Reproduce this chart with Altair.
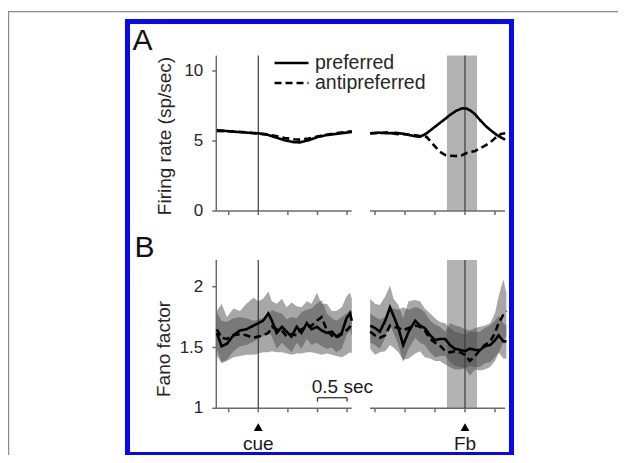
import altair as alt
import pandas as pd

FONT = "Liberation Sans"
CONDS = ["preferred", "antipreferred"]

# ---------------- Panel A : firing rate (sp/sec) ----------------
# left half, time (s) relative to cue
A_left_t = [-0.70, -0.55, -0.40, -0.20, 0.00, 0.15, 0.30, 0.45, 0.60, 0.70, 0.85, 1.00, 1.15, 1.30, 1.45, 1.58]
A_left_pref = [5.78, 5.72, 5.66, 5.60, 5.55, 5.45, 5.25, 5.05, 4.92, 4.90, 5.05, 5.28, 5.42, 5.50, 5.58, 5.65]
A_left_anti = [5.72, 5.70, 5.68, 5.62, 5.52, 5.48, 5.35, 5.22, 5.12, 5.10, 5.18, 5.32, 5.45, 5.55, 5.62, 5.70]
# right half, time (s) relative to feedback
A_right_t = [-1.58, -1.45, -1.30, -1.15, -1.00, -0.85, -0.75, -0.64, -0.55, -0.42, -0.33, -0.25,
             -0.15, -0.05, 0.03, 0.10, 0.17, 0.25, 0.35, 0.42, 0.53, 0.60, 0.67]
A_right_pref = [5.55, 5.60, 5.55, 5.58, 5.50, 5.35, 5.30, 5.55, 5.85, 6.28, 6.58, 6.86,
                7.15, 7.33, 7.32, 7.15, 6.90, 6.50, 6.05, 5.80, 5.43, 5.25, 5.10]
A_right_anti = [5.55, 5.55, 5.62, 5.50, 5.48, 5.42, 5.35, 5.30, 4.85, 4.24, 4.00, 3.95,
                3.93, 3.98, 4.15, 4.22, 4.28, 4.48, 4.70, 4.90, 5.30, 5.50, 5.55]

# ---------------- Panel B : Fano factor ----------------
B_left_t = [-0.70, -0.62, -0.53, -0.42, -0.31, -0.20, -0.08, 0.00, 0.08, 0.17, 0.23, 0.31, 0.40, 0.48,
            0.56, 0.65, 0.73, 0.82, 0.90, 0.99, 1.07, 1.16, 1.24, 1.32, 1.41, 1.49, 1.55, 1.58]
B_left_pref = [1.62, 1.51, 1.53, 1.60, 1.64, 1.65, 1.68, 1.70, 1.72, 1.78, 1.72, 1.62, 1.67, 1.63,
               1.59, 1.67, 1.62, 1.70, 1.65, 1.67, 1.64, 1.62, 1.63, 1.59, 1.62, 1.74, 1.78, 1.72]
B_left_anti = [1.65, 1.58, 1.57, 1.60, 1.61, 1.60, 1.58, 1.59, 1.60, 1.62, 1.67, 1.65, 1.64, 1.59,
               1.61, 1.60, 1.65, 1.67, 1.68, 1.72, 1.75, 1.64, 1.60, 1.58, 1.61, 1.64, 1.67, 1.66]
B_left_pref_hi = [1.80, 1.86, 1.75, 1.82, 1.80, 1.86, 1.91, 1.88, 1.90, 1.96, 1.88, 1.86, 1.90, 1.83,
                  1.87, 1.84, 1.83, 1.88, 1.86, 1.95, 1.86, 1.86, 1.80, 1.80, 1.83, 1.92, 1.95, 1.90]
B_left_pref_lo = [1.49, 1.38, 1.40, 1.47, 1.51, 1.52, 1.55, 1.57, 1.59, 1.64, 1.59, 1.49, 1.54, 1.50,
                  1.46, 1.54, 1.49, 1.57, 1.52, 1.54, 1.51, 1.49, 1.50, 1.46, 1.49, 1.60, 1.64, 1.59]
B_left_anti_hi = [1.79, 1.72, 1.71, 1.74, 1.75, 1.74, 1.72, 1.73, 1.74, 1.76, 1.81, 1.79, 1.78, 1.73,
                  1.75, 1.74, 1.79, 1.81, 1.82, 1.86, 1.89, 1.78, 1.74, 1.72, 1.75, 1.78, 1.81, 1.80]
B_left_anti_lo = [1.43, 1.37, 1.39, 1.42, 1.43, 1.44, 1.44, 1.45, 1.46, 1.46, 1.47, 1.46, 1.46, 1.45,
                  1.44, 1.45, 1.45, 1.46, 1.46, 1.45, 1.44, 1.45, 1.44, 1.43, 1.42, 1.44, 1.46, 1.45]

B_right_t = [-1.58, -1.50, -1.42, -1.33, -1.25, -1.19, -1.11, -1.03, -0.94, -0.83, -0.75, -0.67, -0.58,
             -0.50, -0.42, -0.33, -0.25, -0.17, -0.08, 0.00, 0.08, 0.17, 0.25, 0.33, 0.42, 0.50, 0.56,
             0.64, 0.69]
B_right_pref = [1.68, 1.66, 1.63, 1.72, 1.83, 1.76, 1.66, 1.52, 1.63, 1.72, 1.68, 1.66, 1.60,
                1.56, 1.57, 1.57, 1.52, 1.49, 1.48, 1.47, 1.49, 1.48, 1.48, 1.51, 1.52, 1.56, 1.60,
                1.55, 1.55]
B_right_anti = [1.63, 1.60, 1.58, 1.60, 1.68, 1.67, 1.66, 1.64, 1.66, 1.68, 1.67, 1.64, 1.57,
                1.54, 1.52, 1.47, 1.46, 1.47, 1.46, 1.44, 1.39, 1.43, 1.48, 1.52, 1.55, 1.62, 1.70,
                1.77, 1.80]
B_right_pref_hi = [1.90, 1.86, 1.85, 1.92, 2.01, 1.90, 1.85, 1.74, 1.88, 1.89, 1.88, 1.82, 1.78,
                   1.74, 1.71, 1.70, 1.66, 1.63, 1.62, 1.61, 1.63, 1.63, 1.63, 1.66, 1.68, 1.72, 1.76,
                   1.70, 1.68]
B_right_pref_lo = [1.54, 1.52, 1.49, 1.58, 1.69, 1.62, 1.52, 1.38, 1.49, 1.58, 1.54, 1.52, 1.46,
                   1.42, 1.43, 1.43, 1.38, 1.35, 1.34, 1.33, 1.35, 1.34, 1.34, 1.37, 1.38, 1.42, 1.46,
                   1.41, 1.41]
B_right_anti_hi = [1.78, 1.75, 1.73, 1.75, 1.83, 1.82, 1.81, 1.83, 1.81, 1.83, 1.82, 1.79, 1.72,
                   1.69, 1.67, 1.63, 1.70, 1.68, 1.67, 1.65, 1.64, 1.66, 1.67, 1.68, 1.70, 1.78, 1.92,
                   2.06, 1.95]
B_right_anti_lo = [1.49, 1.44, 1.46, 1.47, 1.52, 1.50, 1.46, 1.40, 1.41, 1.45, 1.47, 1.42, 1.41,
                   1.39, 1.39, 1.36, 1.34, 1.32, 1.32, 1.33, 1.27, 1.32, 1.31, 1.32, 1.34, 1.39, 1.45,
                   1.55, 1.60]

# event markers / windows / axes
EVENT_T = [0.0]                  # cue (left) and feedback (right) times
FB_WINDOW = [-0.30, 0.20]        # grey analysis window around feedback
LEFT_TICKS = [-0.5, 0.0, 0.5, 1.0, 1.5]
RIGHT_TICKS = [-1.5, -1.0, -0.5, 0.0, 0.5]
A_YTICKS = [0, 5, 10]
A_YLABELS = ["0", "5", "10"]
B_YTICKS = [1, 1.5, 2]
B_YLABELS = ["1", "1.5", "2"]
A_YRANGE = [0, 11.1]
B_YRANGE = [1, 2.22]
A_TITLE = "Firing rate (sp/sec)"
B_TITLE = "Fano factor"
SCALEBAR = [1.0, 1.5]            # 0.5 sec scale bar (s)
EVENT_LABELS = ["cue", "Fb"]

# ---------------- layout (pixels, plot coordinates) ----------------
W, H = 610, 444
LEFT_XR = [208.3, 343.7]
LEFT_XD = [-0.709, 1.578]
RIGHT_XR = [362, 497]
RIGHT_XD = [-1.583, 0.667]
A_YR = [200, 44.6]
B_YR = [397.3, 248.95]

AXIS_GREY = "#6b6b6b"
TEXT_COL = "#262626"
LINE_W = 2.6


def long_df(t, pref, anti):
    rows = []
    for cond, vals in (("preferred", pref), ("antipreferred", anti)):
        for ti, v in zip(t, vals):
            rows.append({"t": ti, "v": v, "cond": cond})
    return pd.DataFrame(rows)


def band_df(t, plo, phi, alo, ahi):
    rows = []
    for cond, lo, hi in (("preferred", plo, phi), ("antipreferred", alo, ahi)):
        for ti, a, b in zip(t, lo, hi):
            rows.append({"t": ti, "lo": a, "hi": b, "cond": cond})
    return pd.DataFrame(rows)


def X(field, side):
    sc = (alt.Scale(domain=LEFT_XD, range=LEFT_XR, nice=False, zero=False) if side == "L"
          else alt.Scale(domain=RIGHT_XD, range=RIGHT_XR, nice=False, zero=False))
    return alt.X(field, scale=sc, axis=None)


def Y(field, panel):
    sc = (alt.Scale(domain=A_YRANGE, range=A_YR, nice=False, zero=False) if panel == "A"
          else alt.Scale(domain=B_YRANGE, range=B_YR, nice=False, zero=False))
    return alt.Y(field, scale=sc, axis=None)


def xd(side):
    return LEFT_XD if side == "L" else RIGHT_XD


def yd(panel):
    return A_YRANGE if panel == "A" else B_YRANGE


def x_axis(side, panel):
    d0, d1 = xd(side)
    y0 = yd(panel)[0]
    line = alt.Chart(pd.DataFrame({"a": [d0], "b": [d1], "y": [y0]})).mark_rule(
        color=AXIS_GREY, strokeWidth=1.5).encode(x=X("a:Q", side), x2="b:Q", y=Y("y:Q", panel))
    ticks = LEFT_TICKS if side == "L" else RIGHT_TICKS
    tk = alt.Chart(pd.DataFrame({"t": ticks, "y": [y0] * len(ticks)})).mark_tick(
        color=AXIS_GREY, orient="vertical", size=4, thickness=1.5, yOffset=2, opacity=1).encode(
        x=X("t:Q", side), y=Y("y:Q", panel))
    return line + tk


def y_axis(panel):
    d0 = LEFT_XD[0]
    r0, r1 = yd(panel)
    vals = A_YTICKS if panel == "A" else B_YTICKS
    labs = A_YLABELS if panel == "A" else B_YLABELS
    line = alt.Chart(pd.DataFrame({"x": [d0], "a": [r0], "b": [r1]})).mark_rule(
        color=AXIS_GREY, strokeWidth=1.5).encode(x=X("x:Q", "L"), y=Y("a:Q", panel), y2="b:Q")
    df = pd.DataFrame({"x": [d0] * len(vals), "v": vals, "lab": labs})
    tk = alt.Chart(df).mark_tick(color=AXIS_GREY, orient="horizontal", size=4, thickness=1.5,
                                 xOffset=-2, opacity=1).encode(x=X("x:Q", "L"), y=Y("v:Q", panel))
    tx = alt.Chart(df).mark_text(font=FONT, fontSize=17, color=TEXT_COL, align="right",
                                 baseline="middle", xOffset=-13).encode(
        x=X("x:Q", "L"), y=Y("v:Q", panel), text="lab:N")
    return line + tk + tx


dash_scale = alt.Scale(domain=CONDS, range=[[1, 0], [7, 4]])
legend = alt.Legend(orient="none", legendX=265, legendY=42.5, title=None, symbolType="stroke",
                    symbolSize=1156, symbolStrokeWidth=2.5, symbolStrokeColor="black",
                    labelFontSize=19.5, labelFont=FONT, labelColor=TEXT_COL, labelOffset=5,
                    clipHeight=19, rowPadding=0, padding=0)


def lines(df, side, panel, with_legend=False):
    return alt.Chart(df).mark_line(color="black", strokeWidth=LINE_W).encode(
        x=X("t:Q", side),
        y=Y("v:Q", panel),
        strokeDash=alt.StrokeDash("cond:N", scale=dash_scale, legend=legend if with_legend else None),
    )


def event_rule(side, panel):
    yr = yd(panel)
    df = pd.DataFrame({"t": EVENT_T, "y0": [yr[0]], "y1": [yr[1]]})
    return alt.Chart(df).mark_rule(color="#3a3a3a", strokeWidth=1.2).encode(
        x=X("t:Q", side), y=Y("y0:Q", panel), y2="y1:Q")


def fb_window(panel):
    yr = yd(panel)
    df = pd.DataFrame({"t0": [FB_WINDOW[0]], "t1": [FB_WINDOW[1]], "y0": [yr[0]], "y1": [yr[1]]})
    return alt.Chart(df).mark_rect(color="#b3b3b3").encode(
        x=X("t0:Q", "R"), x2="t1:Q", y=Y("y0:Q", panel), y2="y1:Q")


def bands(df, side):
    return alt.Chart(df).mark_area(color="#484848", opacity=0.48).encode(
        x=X("t:Q", side), y=Y("lo:Q", "B"), y2="hi:Q", detail="cond:N")


def event_marker(side, label):
    tri = alt.Chart(pd.DataFrame({"t": EVENT_T, "y": [0.846]})).mark_point(
        shape="triangle-up", filled=True, color="black", size=80, opacity=1).encode(
        x=X("t:Q", side), y=Y("y:Q", "B"))
    txt = alt.Chart(pd.DataFrame({"t": EVENT_T, "y": [0.657], "lab": [label]})).mark_text(
        font=FONT, fontSize=19, color="#1a1a1a", align="center", baseline="alphabetic").encode(
        x=X("t:Q", side), y=Y("y:Q", "B"), text="lab:N")
    return tri + txt


def scale_bar():
    bar = pd.DataFrame({"t0": [SCALEBAR[0]], "t1": [SCALEBAR[1]], "y": [1.087]})
    ends = pd.DataFrame({"t": SCALEBAR, "y0": [1.087, 1.087], "y1": [1.055, 1.055]})
    lab = pd.DataFrame({"t": [1.42], "y": [1.123], "lab": ["0.5 sec"]})
    h = alt.Chart(bar).mark_rule(color="#333333", strokeWidth=1.3).encode(
        x=X("t0:Q", "L"), x2="t1:Q", y=Y("y:Q", "B"))
    v = alt.Chart(ends).mark_rule(color="#333333", strokeWidth=1.3).encode(
        x=X("t:Q", "L"), y=Y("y0:Q", "B"), y2="y1:Q")
    t = alt.Chart(lab).mark_text(font=FONT, fontSize=19, color="#1a1a1a", align="center",
                                 baseline="alphabetic").encode(
        x=X("t:Q", "L"), y=Y("y:Q", "B"), text="lab:N")
    return h + v + t


one = pd.DataFrame({"k": [0]})


def ytitle(text, px, py):
    return alt.Chart(one).mark_text(text=text, font=FONT, fontSize=19, color=TEXT_COL, angle=270,
                                    align="center", baseline="middle").encode(
        x=alt.value(px), y=alt.value(py))


decor = alt.layer(
    alt.Chart(one).mark_rule(color="#8c8c8c", strokeWidth=1.2).encode(
        x=alt.value(0), x2=alt.value(W), y=alt.value(0.6)),
    alt.Chart(one).mark_rule(color="#8c8c8c", strokeWidth=1.2).encode(
        x=alt.value(0.6), y=alt.value(0), y2=alt.value(H)),
    alt.Chart(one).mark_rect(fillOpacity=0, stroke="#0808ee", strokeWidth=5).encode(
        x=alt.value(119.5), x2=alt.value(503.5), y=alt.value(10.5), y2=alt.value(443.5)),
    alt.Chart(one).mark_text(text="A", font=FONT, fontSize=30, color="#111111", align="center",
                             baseline="alphabetic").encode(x=alt.value(134.5), y=alt.value(39)),
    alt.Chart(one).mark_text(text="B", font=FONT, fontSize=30, color="#111111", align="center",
                             baseline="alphabetic").encode(x=alt.value(136.5), y=alt.value(245.5)),
    ytitle(A_TITLE, 157.3, 125),
    ytitle(B_TITLE, 156, 338),
)

A_left = alt.layer(
    x_axis("L", "A"),
    y_axis("A"),
    event_rule("L", "A"),
    lines(long_df(A_left_t, A_left_pref, A_left_anti), "L", "A", with_legend=True),
)
A_right = alt.layer(
    fb_window("A"),
    x_axis("R", "A"),
    event_rule("R", "A"),
    lines(long_df(A_right_t, A_right_pref, A_right_anti), "R", "A"),
)
B_left = alt.layer(
    bands(band_df(B_left_t, B_left_pref_lo, B_left_pref_hi, B_left_anti_lo, B_left_anti_hi), "L"),
    x_axis("L", "B"),
    y_axis("B"),
    event_rule("L", "B"),
    lines(long_df(B_left_t, B_left_pref, B_left_anti), "L", "B"),
    scale_bar(),
    event_marker("L", EVENT_LABELS[0]),
)
B_right = alt.layer(
    fb_window("B"),
    bands(band_df(B_right_t, B_right_pref_lo, B_right_pref_hi, B_right_anti_lo, B_right_anti_hi), "R"),
    x_axis("R", "B"),
    event_rule("R", "B"),
    lines(long_df(B_right_t, B_right_pref, B_right_anti), "R", "B"),
    event_marker("R", EVENT_LABELS[1]),
)

chart = alt.layer(decor, A_left, A_right, B_left, B_right).resolve_scale(
    x="independent", y="independent"
).properties(
    width=W, height=H,
    autosize=alt.AutoSizeParams(type="none"),
    padding={"left": 0, "top": 3, "right": 0, "bottom": 0},
    background="white",
).configure_view(stroke=None).configure(font=FONT)

chart.save("out.html", embed_options={"renderer": "svg", "actions": False})
